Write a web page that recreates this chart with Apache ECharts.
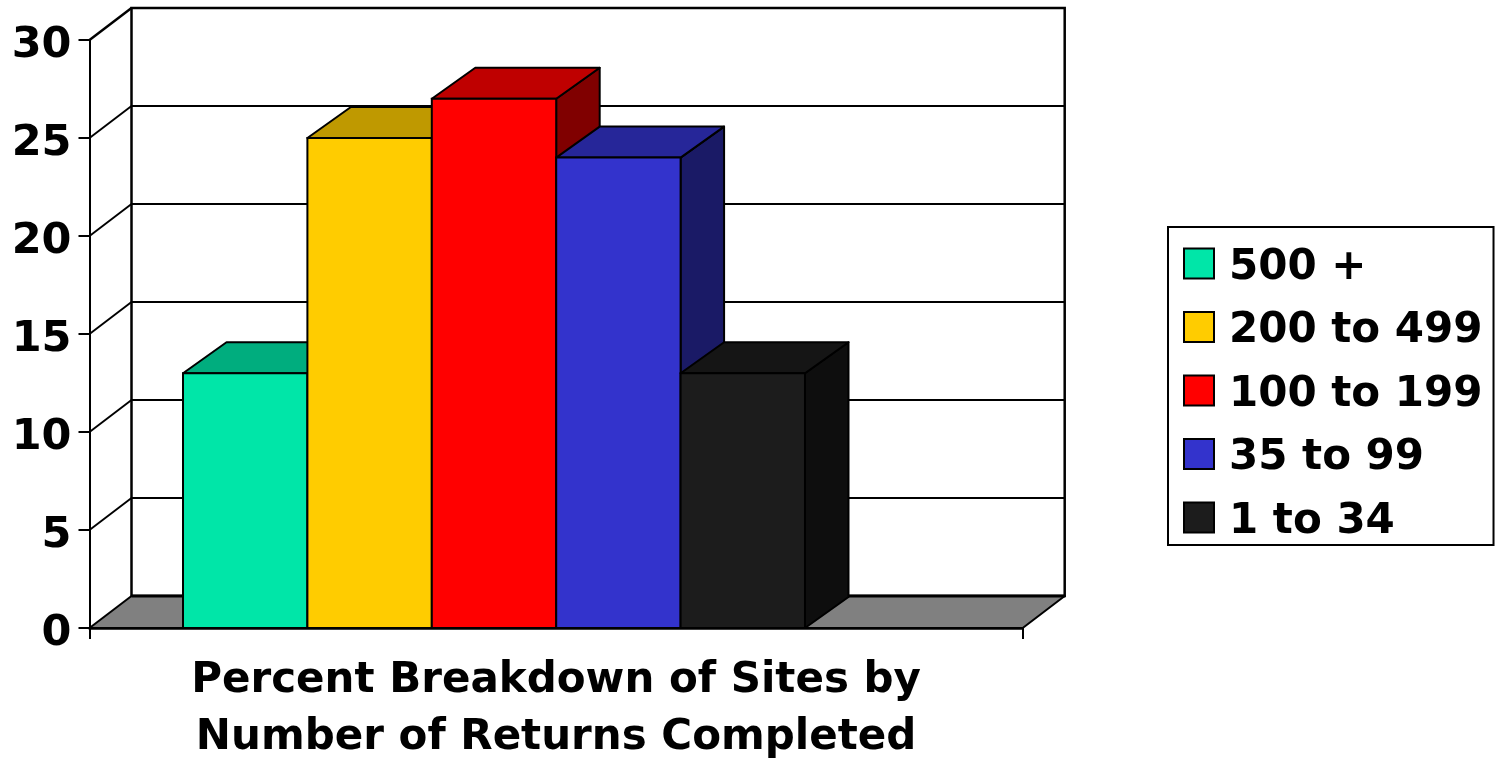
<!DOCTYPE html>
<html>
<head>
<meta charset="utf-8">
<style>html,body{margin:0;padding:0;background:#fff;overflow:hidden}#c{width:1498px;height:759px}</style>
<script src="https://cdn.jsdelivr.net/npm/echarts@6/dist/echarts.min.js"></script>
</head>
<body>
<div id="c"></div>
<script>
var categories = ["Percent Breakdown of Sites by\nNumber of Returns Completed"];
var seriesNames = ["500 +", "200 to 499", "100 to 199", "35 to 99", "1 to 34"];
var seriesValues = [13, 25, 27, 24, 13];
var frontColors = ["#00E6A8", "#FFCC00", "#FF0000", "#3333CC", "#1C1C1C"];
var topColors = ["#00AD7E", "#BF9900", "#BF0000", "#262699", "#151515"];
var sideColors = ["#007354", "#806600", "#800000", "#1A1A66", "#0E0E0E"];
var yTicks = [0, 5, 10, 15, 20, 25, 30];

var WALL = {dx: 42, dy: -32};
var DEPTH = {dx: 43.5, dy: -31};
var LEAD = 0.1002, BAR = 0.1333;

function line(x1, y1, x2, y2, w) {
  return {type: "line", shape: {x1: x1, y1: y1, x2: x2, y2: y2},
          style: {stroke: "#000", lineWidth: w || 2}};
}
function poly(pts, fill) {
  return {type: "polygon", shape: {points: pts},
          style: {fill: fill, stroke: "#000", lineWidth: 2, lineJoin: "round"}};
}

function renderWalls(params, api) {
  var c0 = api.coord([0, 0]);
  var band = api.size([1, 0])[0];
  var xl = c0[0] - band / 2, xr = c0[0] + band / 2, y0 = c0[1];
  var top = api.coord([0, yTicks[yTicks.length - 1]])[1];
  var kids = [];
  kids.push({type: "rect", shape: {x: xl + WALL.dx, y: top + WALL.dy, width: band, height: y0 - top},
             style: {fill: "#fff", stroke: "#000", lineWidth: 2.5}});
  yTicks.forEach(function (t) {
    var y = api.coord([0, t])[1];
    if (t > 0) {
      kids.push(line(xl, y, xl + WALL.dx, y + WALL.dy, t === 30 ? 2.5 : 2));
      if (t < 30) kids.push(line(xl + WALL.dx, y + WALL.dy, xr + WALL.dx, y + WALL.dy, 2));
    }
  });
  kids.push(poly([[xl, y0], [xl + WALL.dx, y0 + WALL.dy], [xr + WALL.dx, y0 + WALL.dy], [xr, y0]], "#808080"));
  kids.push(line(xl + WALL.dx, y0 + WALL.dy, xr + WALL.dx, y0 + WALL.dy, 3));
  return {type: "group", children: kids};
}

function makeBarRenderer(i) {
  return function (params, api) {
    var c = api.coord([api.value(0), api.value(1)]);
    var y0 = api.coord([api.value(0), 0])[1];
    var band = api.size([1, 0])[0];
    var x1 = c[0] - band / 2 + band * (LEAD + i * BAR);
    var x2 = x1 + band * BAR;
    var y = c[1];
    var dx = DEPTH.dx, dy = DEPTH.dy;
    return {type: "group", children: [
      poly([[x2, y], [x2 + dx, y + dy], [x2 + dx, y0 + dy], [x2, y0]], sideColors[i]),
      poly([[x1, y], [x1 + dx, y + dy], [x2 + dx, y + dy], [x2, y]], topColors[i]),
      {type: "rect", shape: {x: x1, y: y, width: x2 - x1, height: y0 - y},
       style: {fill: frontColors[i], stroke: "#000", lineWidth: 2}}
    ]};
  };
}

var series = [{
  type: "custom", name: "walls", silent: true, z: 1, clip: false,
  renderItem: renderWalls, data: [[0, 0]], encode: {x: 0, y: 1}
}];
seriesNames.forEach(function (n, i) {
  series.push({
    type: "custom", name: n, z: 2 + i, clip: false,
    renderItem: makeBarRenderer(i),
    itemStyle: {color: frontColors[i], borderColor: "#000", borderWidth: 2},
    data: [[0, seriesValues[i]]], encode: {x: 0, y: 1}
  });
});

var chart = echarts.init(document.getElementById("c"), null, {renderer: "canvas"});
chart.setOption({
  animation: false,
  backgroundColor: "#fff",
  tooltip: {show: false},
  grid: {left: 89.5, right: 475.3, top: 40, bottom: 131, containLabel: false, outerBoundsMode: "none"},
  xAxis: {
    type: "category", data: categories,
    axisLine: {lineStyle: {color: "#000", width: 2.5}},
    axisTick: {show: true, length: 11, lineStyle: {color: "#000", width: 2}},
    axisLabel: {margin: 25, fontFamily: "DejaVu Sans", fontWeight: "bold", fontSize: 42, lineHeight: 57, color: "#000"}
  },
  yAxis: {
    type: "value", min: 0, max: 30, interval: 5,
    axisLine: {show: true, lineStyle: {color: "#000", width: 2}},
    axisTick: {show: true, length: 11, lineStyle: {color: "#000", width: 2}},
    splitLine: {show: false},
    axisLabel: {
      margin: 18, formatter: "{a|{value}}",
      rich: {a: {padding: [11, 0, 0, 0], fontFamily: "DejaVu Sans", fontWeight: "bold", fontSize: 43, color: "#000"}}
    }
  },
  legend: {
    show: true, orient: "vertical", left: 1168, top: 227,
    data: seriesNames, icon: "rect",
    itemWidth: 30, itemHeight: 30, itemGap: 21.5,
    padding: [20, 11, 2, 15],
    backgroundColor: "#fff", borderColor: "#000", borderWidth: 2,
    selectedMode: false,
    formatter: function (n) { return "{a|" + n + "}"; },
    textStyle: {
      fontFamily: "DejaVu Sans", fontWeight: "bold", fontSize: 42, color: "#000",
      rich: {a: {padding: [9, 0, 0, 10], fontFamily: "DejaVu Sans", fontWeight: "bold", fontSize: 42, color: "#000"}}
    }
  },
  series: series
});
</script>
</body>
</html>
